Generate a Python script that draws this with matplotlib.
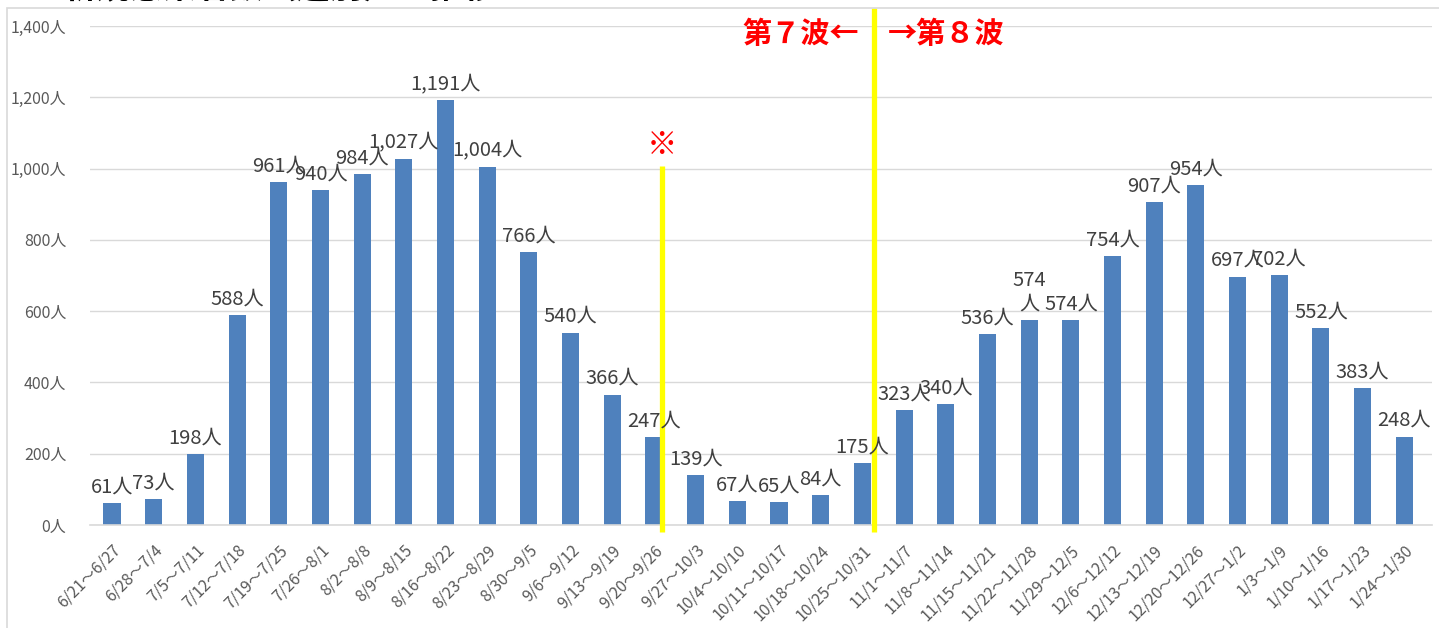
import matplotlib
matplotlib.use("Agg")
import matplotlib.pyplot as plt
from matplotlib.patches import Rectangle

plt.rcParams['font.family'] = ['Noto Sans CJK JP', 'DejaVu Sans']

weeks = [
    "6/21～6/27", "6/28～7/4", "7/5～7/11", "7/12～7/18", "7/19～7/25",
    "7/26～8/1", "8/2～8/8", "8/9～8/15", "8/16～8/22", "8/23～8/29",
    "8/30～9/5", "9/6～9/12", "9/13～9/19", "9/20～9/26", "9/27～10/3",
    "10/4～10/10", "10/11～10/17", "10/18～10/24", "10/25～10/31",
    "11/1～11/7", "11/8～11/14", "11/15～11/21", "11/22～11/28",
    "11/29～12/5", "12/6～12/12", "12/13～12/19", "12/20～12/26",
    "12/27～1/2", "1/3～1/9", "1/10～1/16", "1/17～1/23", "1/24～1/30",
]
cases = [
    61, 73, 198, 588, 961, 940, 984, 1027, 1191, 1004, 766, 540, 366, 247,
    139, 67, 65, 84, 175, 323, 340, 536, 574, 574, 754, 907, 954, 697, 702,
    552, 383, 248,
]
# labels that Excel wrapped onto two lines
wrapped = {22}

yticks = [0, 200, 400, 600, 800, 1000, 1200, 1400]

fig = plt.figure(figsize=(14.39, 6.28), dpi=100)
ax = fig.add_axes([0.0625, 0.164, 0.9325, 0.7946])

x = list(range(len(weeks)))
ax.bar(x, cases, width=0.41, color="#4F81BD", zorder=2)

for i, v in enumerate(cases):
    txt = f"{v:,}人"
    if i in wrapped:
        txt = f"{v:,}\n人"
    ax.annotate(txt, (i, v), xytext=(0, 4), textcoords="offset points",
                ha="center", va="bottom", fontsize=14.5, color="#404040",
                zorder=5, linespacing=1.2)

ax.set_xlim(-0.53, 31.66)
ax.set_ylim(0, 1400)
ax.set_yticks(yticks)
ax.set_yticklabels([f"{t:,}人" for t in yticks], fontsize=11.5, color="#595959")
ax.set_xticks(x)
ax.set_xticklabels(weeks, rotation=45, ha="right", rotation_mode="anchor",
                   fontsize=11.5, color="#595959")
ax.tick_params(axis="both", length=0)
ax.tick_params(axis="y", pad=17)
ax.tick_params(axis="x", pad=12)
ax.grid(axis="y", color="#d9d9d9", linewidth=1, zorder=0)
for s in ["top", "right", "left"]:
    ax.spines[s].set_visible(False)
ax.spines["bottom"].set_color("#d9d9d9")
ax.spines["bottom"].set_linewidth(1.2)

# yellow separators
ax.plot([13.19, 13.19], [-20, 1007], color="#FFFF00", linewidth=3.8,
        clip_on=False, zorder=4, solid_capstyle="butt")
ax.plot([18.27, 18.27], [-20, 1450], color="#FFFF00", linewidth=3.8,
        clip_on=False, zorder=4, solid_capstyle="butt")

ax.text(13.2, 1068, "※", color="red", fontsize=22, ha="center", va="center")
ax.text(17.92, 1378, "第７波←", color="red", fontsize=21, fontweight="bold",
        ha="right", va="center")
ax.text(18.62, 1378, "→第８波", color="red", fontsize=21, fontweight="bold",
        ha="left", va="center")

# frame and cut-off heading
fig.patches.append(Rectangle((7 / 1439, -0.01), 1.0, 1 - 8 / 628 + 0.01,
                             transform=fig.transFigure, fill=False,
                             edgecolor="#d9d9d9", linewidth=1.2))
fig.text(-0.003, 1 + 2 / 628, "３　新規感染者数（週別）の推移", fontsize=24,
         fontweight="bold", color="black", ha="left", va="baseline")

fig.savefig("out.png", dpi=100)
